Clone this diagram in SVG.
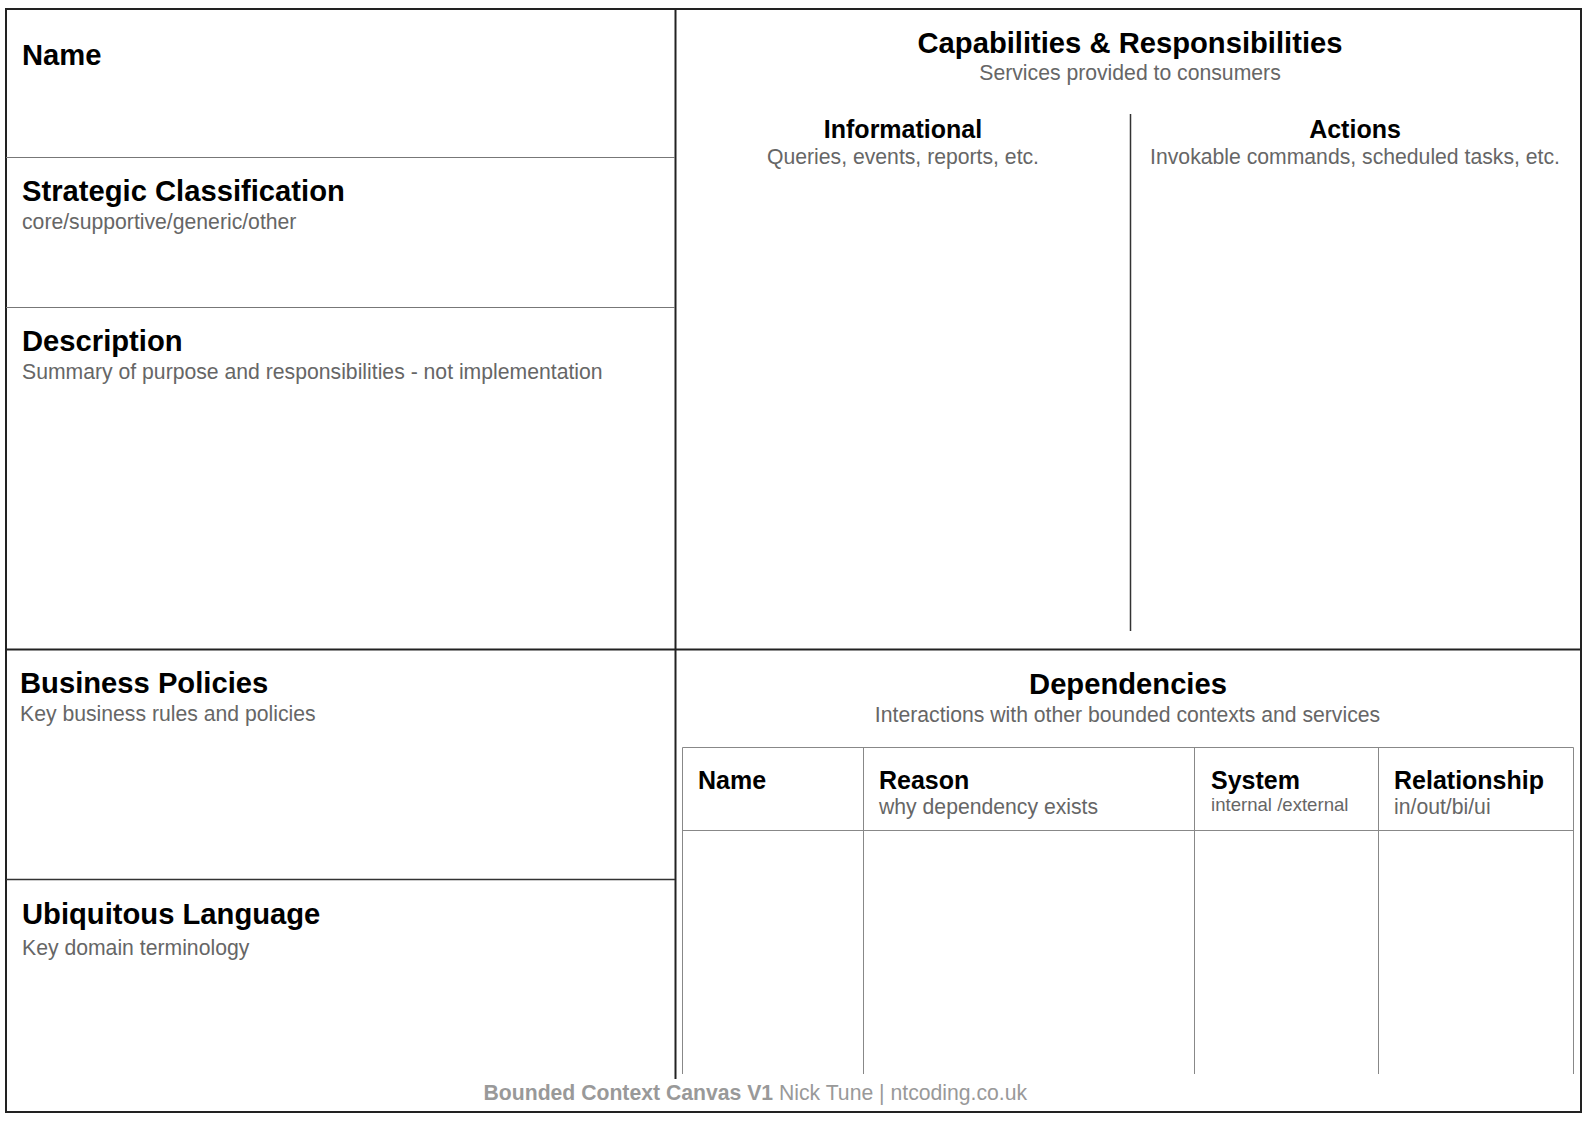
<svg xmlns="http://www.w3.org/2000/svg" width="1586" height="1122" viewBox="0 0 1586 1122">
<style>
text { font-family: "Liberation Sans", Arial, sans-serif; }
.h { font-size: 29.2px; font-weight: bold; fill: #000; }
.h2 { font-size: 25px; font-weight: bold; fill: #000; }
.s { font-size: 21.2px; fill: #666; }
.s2 { font-size: 18.6px; fill: #666; }
.c { text-anchor: middle; }
.frame { fill: #fff; stroke: #222; stroke-width: 2; }
.major { stroke: #222; stroke-width: 2; fill: none; }
.minor { stroke: #777; stroke-width: 1; fill: none; }
.dark { stroke: #333; stroke-width: 1.5; fill: none; }
.tbl { stroke: #888; stroke-width: 1; fill: none; }
.foot { font-size: 21.2px; fill: #999; }
</style>
<rect width="1586" height="1122" fill="#fff"/>
<g id="grid">
  <rect class="frame" x="6" y="9" width="1575" height="1103"/>
  <line class="major" x1="675.5" y1="9" x2="675.5" y2="1079"/>
  <line class="major" x1="6" y1="649.5" x2="1581" y2="649.5"/>
  <line class="minor" x1="6" y1="157.5" x2="675" y2="157.5"/>
  <line class="minor" x1="6" y1="307.5" x2="675" y2="307.5"/>
  <line class="dark" x1="6" y1="879.5" x2="675" y2="879.5"/>
  <line class="dark" x1="1130.5" y1="114" x2="1130.5" y2="631"/>
</g>
<g id="name">
  <text class="h" x="22" y="64.5">Name</text>
</g>
<g id="strategic-classification">
  <text class="h" x="22" y="201">Strategic Classification</text>
  <text class="s" x="22" y="229">core/supportive/generic/other</text>
</g>
<g id="description">
  <text class="h" x="22" y="351">Description</text>
  <text class="s" x="22" y="379">Summary of purpose and responsibilities - not implementation</text>
</g>
<g id="business-policies">
  <text class="h" x="20" y="692.5">Business Policies</text>
  <text class="s" x="20" y="720.5">Key business rules and policies</text>
</g>
<g id="ubiquitous-language">
  <text class="h" x="22" y="924">Ubiquitous Language</text>
  <text class="s" x="22" y="955">Key domain terminology</text>
</g>
<g id="capabilities">
  <text class="h c" x="1130" y="53">Capabilities &amp; Responsibilities</text>
  <text class="s c" x="1130" y="79.5">Services provided to consumers</text>
</g>
<g id="informational">
  <text class="h2 c" x="903" y="138">Informational</text>
  <text class="s c" x="903" y="164">Queries, events, reports, etc.</text>
</g>
<g id="actions">
  <text class="h2 c" x="1355" y="138">Actions</text>
  <text class="s c" x="1355" y="164">Invokable commands, scheduled tasks, etc.</text>
</g>
<g id="dependencies">
  <text class="h c" x="1128" y="694">Dependencies</text>
  <text class="s c" x="1127.5" y="721.5">Interactions with other bounded contexts and services</text>
</g>
<g id="dependencies-table">
  <polyline class="tbl" points="682.5,1074 682.5,747.5 1573.5,747.5 1573.5,1074"/>
  <line class="tbl" x1="682.5" y1="830.5" x2="1573.5" y2="830.5"/>
  <line class="tbl" x1="863.5" y1="747.5" x2="863.5" y2="1074"/>
  <line class="tbl" x1="1194.5" y1="747.5" x2="1194.5" y2="1074"/>
  <line class="tbl" x1="1378.5" y1="747.5" x2="1378.5" y2="1074"/>
  <text class="h2" x="698" y="788.5">Name</text>
  <text class="h2" x="879" y="788.5">Reason</text>
  <text class="s" x="879" y="814">why dependency exists</text>
  <text class="h2" x="1211" y="788.5">System</text>
  <text class="s2" x="1211" y="811">internal /external</text>
  <text class="h2" x="1394" y="788.5">Relationship</text>
  <text class="s" x="1394" y="814">in/out/bi/ui</text>
</g>
<g id="footer">
  <text class="foot" x="483.5" y="1100">
    <tspan font-weight="bold">Bounded Context Canvas V1</tspan> Nick Tune | ntcoding.co.uk</text>
</g>
</svg>
